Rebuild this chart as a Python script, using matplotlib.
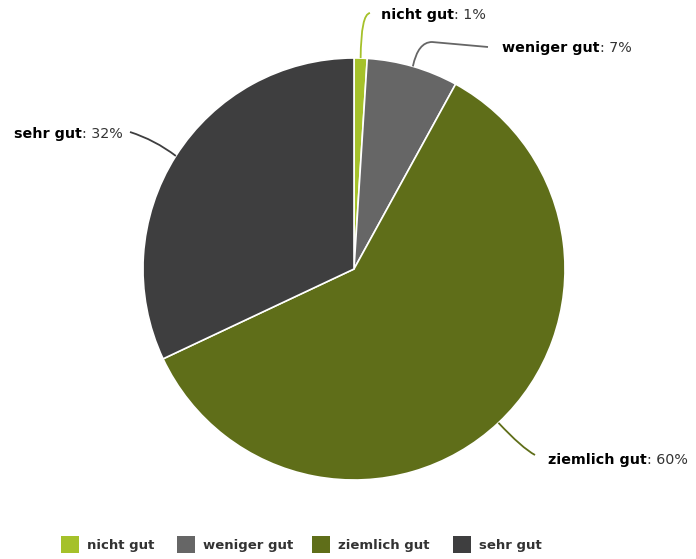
import matplotlib
matplotlib.use("Agg")
import matplotlib.pyplot as plt
from matplotlib.patches import Rectangle, PathPatch
from matplotlib.path import Path
import numpy as np

labels = ["nicht gut", "weniger gut", "ziemlich gut", "sehr gut"]
values = [1, 7, 60, 32]
colors = ["#a5c12a", "#666666", "#5f6e19", "#3e3e3f"]

W, H = 696, 559
fig = plt.figure(figsize=(W / 100, H / 100), dpi=100)
ax = fig.add_axes([0, 0, 1, 1])

cx, cy, R = 354, H - 269, 211
wedges, _ = ax.pie(values, colors=colors, startangle=90, counterclock=False,
                   center=(cx, cy), radius=R, frame=True,
                   wedgeprops=dict(edgecolor="white", linewidth=1.2))
ax.set_xlim(0, W)
ax.set_ylim(0, H)
ax.set_aspect("equal")
ax.axis("off")

# connector points after the slice edge (image pixel coords, y down) and text anchor
layout = [
    ([(361, 14), (370, 13)], (381, 15), "left"),
    ([(418, 42), (432, 42), (488, 47)], (502, 48), "left"),
    ([(522, 448), (535, 455)], (548, 460), "left"),
    ([(155, 140), (130, 132)], (123, 134), "right"),
]

fs = 10.3
fig.canvas.draw()
renderer = fig.canvas.get_renderer()
for w, lab, val, col, (pts, txt, ha) in zip(wedges, labels, values, colors, layout):
    ang = np.deg2rad((w.theta1 + w.theta2) / 2)
    sx, sy = cx + R * np.cos(ang), cy + R * np.sin(ang)
    verts = [(sx, sy)] + [(p[0], H - p[1]) for p in pts]
    codes = [Path.MOVETO, Path.CURVE3, Path.CURVE3] + [Path.LINETO] * (len(pts) - 2)
    ax.add_patch(PathPatch(Path(verts, codes), fill=False, edgecolor=col, linewidth=1.3))
    tx, ty = txt[0], H - txt[1]
    if ha == "left":
        t1 = ax.text(tx, ty, lab, fontsize=fs, fontweight="bold", ha="left", va="center")
        bb = t1.get_window_extent(renderer)
        ax.text(bb.x1, ty, ": " + str(val) + "%", fontsize=fs, color="#333333",
                ha="left", va="center")
    else:
        t2 = ax.text(tx, ty, ": " + str(val) + "%", fontsize=fs, color="#333333",
                     ha="right", va="center")
        bb = t2.get_window_extent(renderer)
        ax.text(bb.x0, ty, lab, fontsize=fs, fontweight="bold", ha="right", va="center")

# legend
leg_x = [61, 177, 312, 453]
for x, lab, col in zip(leg_x, labels, colors):
    ax.add_patch(Rectangle((x, H - 553), 18, 17, facecolor=col, edgecolor="none"))
    ax.text(x + 26, H - 545, lab, fontsize=9.5, fontweight="bold", color="#333333",
            ha="left", va="center")

fig.savefig("out.png", dpi=100)
